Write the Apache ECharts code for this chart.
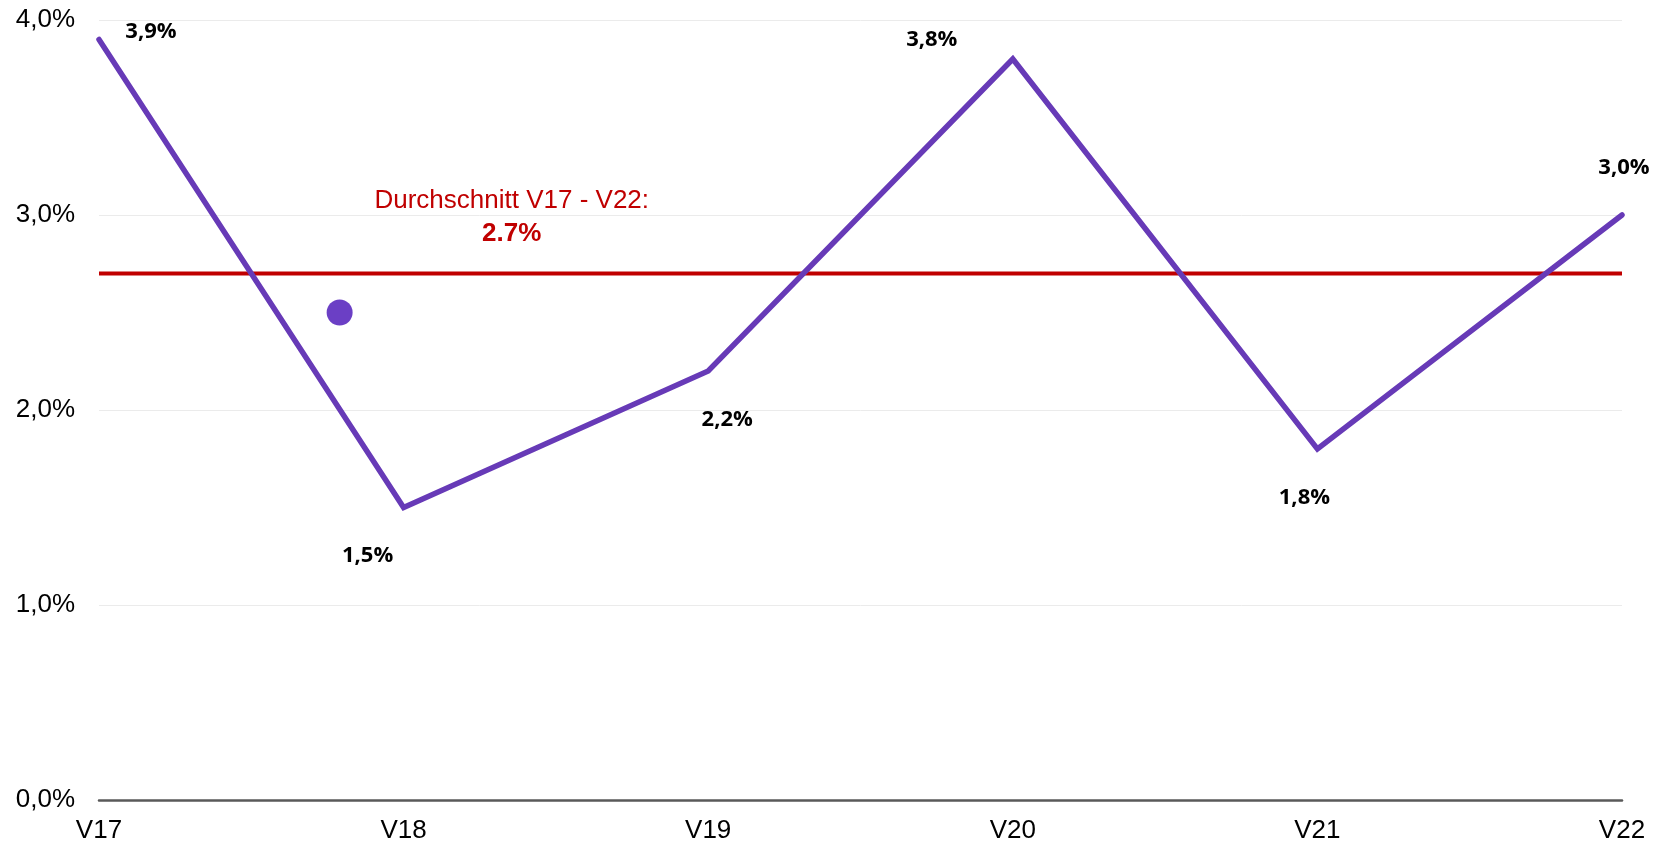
<!DOCTYPE html>
<html>
<head>
<meta charset="utf-8">
<script src="https://cdn.jsdelivr.net/npm/echarts@6/dist/echarts.min.js"></script>
<style>html,body{margin:0;padding:0;background:#fff}#c{width:1665px;height:845px}</style>
</head>
<body>
<div id="c"></div>
<script>
const categories = ['V17','V18','V19','V20','V21','V22'];
const values = [3.9, 1.5, 2.2, 3.8, 1.8, 3.0];
const averageValue = 2.7;
const averageTitle = 'Durchschnitt V17 - V22:';
const averageText = '2.7%';
const strayDot = [0.79, 2.5];
const labelOffsets = [[52,-8],[-36,48],[19,49],[-81,-19],[-13,49],[2,-47]];

const fmt = v => v.toFixed(1).replace('.', ',') + '%';

const chart = echarts.init(document.getElementById('c'));
chart.setOption({
  animation: false,
  grid: {left: 99, right: 43, top: 20, bottom: 45, containLabel: false},
  xAxis: [{
    type: 'category', data: categories, boundaryGap: false,
    axisLine: {lineStyle: {color: '#595959', width: 2.5}},
    axisTick: {show: false},
    axisLabel: {color: '#000', fontFamily: 'Liberation Sans, Arial', fontSize: 26, margin: 18}
  }, {
    type: 'value', min: 0, max: categories.length - 1, show: false
  }],
  yAxis: {
    type: 'value', min: 0, max: 4, interval: 1,
    axisLine: {show: false}, axisTick: {show: false},
    splitLine: {lineStyle: {color: '#EBEBEB', width: 1}},
    axisLabel: {color: '#000', fontFamily: 'Liberation Sans, Arial', fontSize: 26, margin: 24, formatter: v => fmt(v)}
  },
  series: [{
    type: 'line', data: categories.map(() => averageValue), symbol: 'none',
    lineStyle: {color: '#C00000', width: 4}, z: 2
  }, {
    type: 'line', data: values, symbol: 'none', z: 3,
    lineStyle: {color: '#673AB7', width: 5.5, cap: 'round', join: 'miter'}
  }, {
    type: 'scatter', data: values.map((v, i) => ({
      value: v,
      label: {offset: labelOffsets[i]}
    })),
    symbolSize: 0, z: 5, itemStyle: {opacity: 1},
    label: {
      show: true, position: 'inside', formatter: p => fmt(p.value),
      color: '#000', fontFamily: 'Open Sans, Noto Sans', fontWeight: 'bold', fontSize: 22
    }
  }, {
    type: 'scatter', xAxisIndex: 1, data: [strayDot], symbolSize: 26,
    itemStyle: {color: '#6B3FC5', opacity: 1}, z: 4
  }, {
    type: 'scatter', xAxisIndex: 1, data: [[1.355, averageValue]], symbolSize: 0,
    itemStyle: {opacity: 1},
    label: {
      show: true, position: 'inside', offset: [0, -57],
      formatter: () => '{a|' + averageTitle + '}\n{b|' + averageText + '}',
      rich: {
        a: {color: '#C00000', fontFamily: 'Liberation Sans, Arial', fontSize: 26, lineHeight: 34, align: 'center'},
        b: {color: '#C00000', fontFamily: 'Liberation Sans, Arial', fontSize: 26, fontWeight: 'bold', lineHeight: 32, align: 'center'}
      }
    }
  }]
});
</script>
</body>
</html>
